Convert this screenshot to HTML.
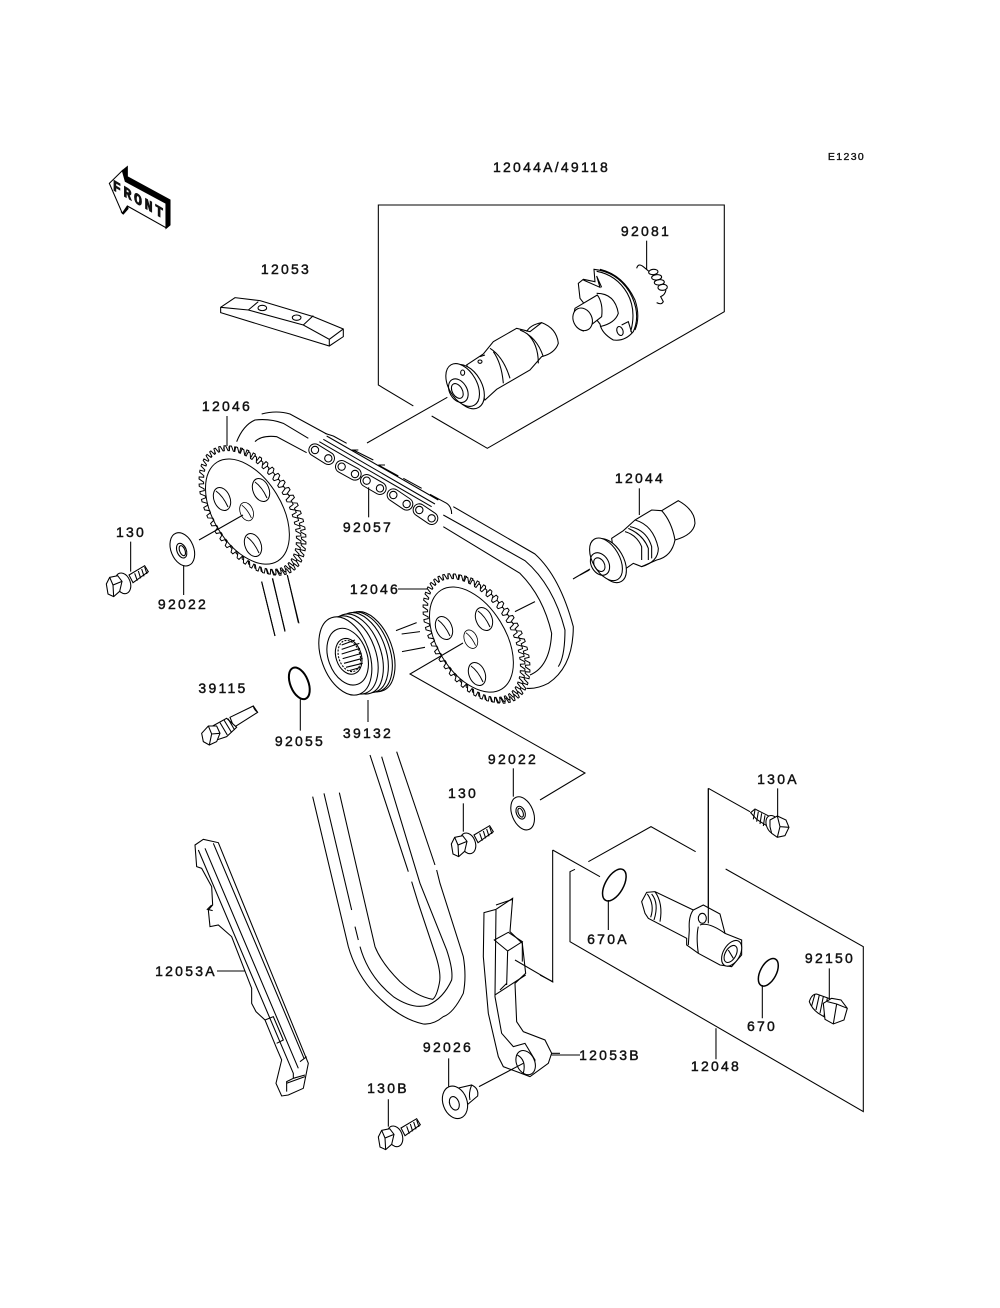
<!DOCTYPE html>
<html><head><meta charset="utf-8"><style>
html,body{margin:0;padding:0;background:#fff}
svg{display:block}
text{font-family:"Liberation Sans",sans-serif;font-size:14px;letter-spacing:2.25px;text-anchor:middle;fill:#111;stroke:#111;stroke-width:.45}
.s{fill:none;stroke:#000;stroke-width:1.05}
.z{fill:none;stroke:#000;stroke-width:3.2}
.w{fill:#fff}
</style></head><body>
<svg width="1000" height="1308" viewBox="0 0 1000 1308" xmlns="http://www.w3.org/2000/svg">
<defs>
<g id="spb"><path class="tooth" fill="#fff" stroke="#000" stroke-width="1"/></g>
<g id="spf"><path class="tooth" fill="#fff" stroke="#000" stroke-width="1"/><ellipse cx="0" cy="3" rx="58" ry="34" fill="none" stroke="#000" stroke-width="1"/></g>
<g id="hole"><ellipse rx="8" ry="12" transform="rotate(-22)" fill="#fff" stroke="#000" stroke-width="1"/><path d="M-6-8Q1-3 6 8" fill="none" stroke="#000" stroke-width="1"/></g>
<g id="bolt" class="z" transform="scale(.3333) translate(-85,-195)">
<path class="w" d="M118 165L165 137L176 155L130 188Z"/>
<path d="M135 160L143 182M146 153L153 175M156 147L163 169M165 141L172 162"/>
<ellipse class="w" cx="100" cy="190" rx="22" ry="32" transform="rotate(-20 100 190)"/>
<path class="w" d="M50 192L60 172L84 167L97 184L90 214L72 230L55 222Z"/>
<path d="M60 172L70 195L97 184M70 195L72 230"/>
</g>
</defs>

<!-- labels -->
<text x="846.5" y="160" style="font-size:10.5px;letter-spacing:1.4px;stroke-width:.35">E1230</text>
<text x="551.5" y="172">12044A/49118</text>
<text x="646" y="236">92081</text>
<text x="286" y="274">12053</text>
<text x="227" y="411">12046</text>
<text x="640" y="483">12044</text>
<text x="368" y="532">92057</text>
<text x="131" y="537">130</text>
<text x="375" y="594">12046</text>
<text x="183" y="609">92022</text>
<text x="223" y="693">39115</text>
<text x="300" y="746">92055</text>
<text x="368" y="738">39132</text>
<text x="513" y="764">92022</text>
<text x="463" y="798">130</text>
<text x="778" y="784">130A</text>
<text x="608" y="944">670A</text>
<text x="830" y="963">92150</text>
<text x="186" y="976">12053A</text>
<text x="762" y="1031">670</text>
<text x="610" y="1060">12053B</text>
<text x="716" y="1071">12048</text>
<text x="448" y="1052">92026</text>
<text x="388" y="1093">130B</text>

<!-- z1: front arrow + 12053 block -->
<g class="z" transform="translate(90,150) scale(.3333)">
<polygon fill="#000" stroke="#000" points="97,62 112,50 112,80 240,150 240,225 228,235 226,160 106,94"/>
<polygon fill="#000" stroke="#000" points="94,186 112,165 114,176 100,192"/>
<polygon fill="#fff" points="58,100 97,62 106,94 228,160 228,233 112,168 97,190"/>
<g transform="matrix(.866 .5 0 1 148 150)"><text x="0" y="15" style="font-family:'Liberation Mono',monospace;font-weight:bold;font-size:46px;letter-spacing:9px;stroke-width:2.5">FRONT</text></g>
<path d="M392 472L435 443L510 452L670 500L760 537L760 560L718 588L392 488Z"/>
<path d="M392 472L475 480L640 525L718 568L760 537M718 568V588M475 480L505 455M640 525L670 497"/>
<ellipse cx="517" cy="474" rx="13" ry="8"/><ellipse cx="620" cy="503" rx="13" ry="8"/>
</g>

<!-- z2: box + cam + plate + spring -->
<g class="z" transform="translate(370,200) scale(.3333)">
<path d="M130 618L25 555V15H1063V335L352 745L185 648"/>
<path d="M-9 729L232 592"/>
<path d="M830 122V208"/>
<!-- spring -->
<path d="M800 205Q805 188 820 200L838 215"/>
<ellipse cx="850" cy="216" rx="14" ry="8" transform="rotate(-5 850 216)"/>
<ellipse cx="860" cy="232" rx="15" ry="8" transform="rotate(-5 860 232)"/>
<ellipse cx="868" cy="247" rx="15" ry="8" transform="rotate(-5 868 247)"/>
<ellipse cx="878" cy="262" rx="14" ry="9" transform="rotate(-5 878 262)"/>
<path d="M888 270Q885 285 872 290L880 305Q875 316 860 308"/>
<!-- plate -->
<path class="w" d="M640 238L675 245L672 208Q740 215 778 275Q815 340 790 395Q765 425 730 420Q695 400 690 372L630 295L625 250Z"/>
<path d="M680 214Q740 225 772 280Q800 330 782 395M690 208Q760 225 795 300Q812 350 795 390"/>
<path d="M640 240L690 262L680 228L695 262"/>
<ellipse cx="750" cy="393" rx="9" ry="14" transform="rotate(-20 750 393)"/>
<path d="M755 375L775 365L785 398"/>
<path d="M680 280Q735 280 745 340Q735 370 690 380"/>
<path class="w" d="M615 325L682 285Q700 310 695 350L640 393Q612 385 610 350Z"/>
<ellipse cx="638" cy="358" rx="28" ry="35" class="w" transform="rotate(-25 638 358)"/>
<!-- cam -->
<path class="w" d="M290 495L340 462L370 425L440 385L480 395L515 368Q560 385 565 430Q555 460 515 470L480 510L380 568L345 600Z"/>
<path d="M515 368Q480 375 470 395M450 390Q500 410 520 470M470 400Q505 430 505 490"/>
<path d="M360 445Q400 470 420 535M370 455Q395 490 400 550M330 470L345 465"/>
<ellipse cx="330" cy="485" rx="6" ry="5"/>
<ellipse class="w" cx="290" cy="560" rx="45" ry="72" transform="rotate(-30 290 560)"/>
<ellipse class="w" cx="278" cy="555" rx="42" ry="70" transform="rotate(-30 278 555)"/>
<ellipse cx="265" cy="572" rx="26" ry="38" transform="rotate(-30 265 572)"/>
<ellipse cx="262" cy="573" rx="15" ry="24" transform="rotate(-30 262 573)"/>
<ellipse cx="278" cy="518" rx="6" ry="8"/>
</g>

<!-- connector lines main -->
<g class="s">
<path d="M227 416V446"/>
<path d="M398 589H428"/>
<path d="M368 700V722"/>
<path d="M573 579L590 569"/>
<path d="M217 971H246"/>
</g>

<!-- belts z3 -->
<g class="z" transform="translate(190,400) scale(.3333)">
<path d="M140 125Q160 75 195 60Q240 55 280 70L355 115"/>
<path d="M215 42Q260 30 300 42L410 102"/>
<path d="M195 125Q215 105 260 110L350 158"/>
<path d="M790 320L1035 462Q1110 530 1150 680Q1150 800 1075 850Q1040 868 1010 865"/>
<path d="M760 345L1005 482Q1090 555 1125 690Q1125 770 1105 800"/>
<path d="M760 380L990 520Q1060 590 1085 700Q1080 800 1020 825"/>
<path d="M975 635L1035 605"/>
<path d="M215 545L255 708M247 535L285 692M292 525L325 668"/>
<path d="M618 692L680 668M635 702L690 695M636 755L705 742"/>
</g>

<!-- sprockets -->
<use href="#spb" transform="translate(255,511) rotate(58.5)"/>
<use href="#spf" transform="translate(250,510) rotate(58.5)"/>
<use href="#spb" transform="translate(479,639) rotate(58.5)"/>
<use href="#spf" transform="translate(474,638) rotate(58.5)"/>
<use href="#hole" x="222" y="499"/><use href="#hole" x="261" y="490"/><use href="#hole" x="247" y="512" transform="translate(49 102) scale(.8)"/><use href="#hole" x="253" y="545"/>
<use href="#hole" x="444" y="628"/><use href="#hole" x="484" y="619"/><use href="#hole" x="471" y="639" transform="translate(94 128) scale(.8)"/><use href="#hole" x="477" y="674"/>
<path class="s" d="M199 540L243 515M463 643L410 674L585 773L540 800"/>

<!-- chain z3 -->
<g transform="translate(190,400) scale(.3333)" class="z">
<path d="M400 118L735 312M410 108L745 300M388 125L725 320M430 108L470 130M490 150L550 180M565 195L625 228M640 235L695 265M720 283L770 310Q785 320 785 342M405 100L430 108M485 150L505 150M565 195L585 195"/>
<g stroke-linecap="round">
<path d="M375 150L415 175M455 200L495 222M530 242L570 265M610 285L650 312M688 330L725 355" stroke="#000" stroke-width="40"/>
<path d="M375 150L415 175M455 200L495 222M530 242L570 265M610 285L650 312M688 330L725 355" stroke="#fff" stroke-width="34"/>
</g>
<g class="w"><circle cx="375" cy="150" r="11"/><circle cx="415" cy="175" r="11"/><circle cx="455" cy="200" r="11"/><circle cx="495" cy="222" r="11"/><circle cx="530" cy="242" r="11"/><circle cx="570" cy="265" r="11"/><circle cx="610" cy="285" r="11"/><circle cx="650" cy="312" r="11"/><circle cx="688" cy="330" r="11"/><circle cx="725" cy="355" r="11"/></g>
<path d="M536 262V352"/>
</g>

<!-- cam 2 z4 -->
<g class="z" transform="translate(580,460) scale(.3333)">
<path d="M178 85V165"/>
<path class="w" d="M95 235L130 212L165 180L215 150L245 152L295 122Q345 150 345 190Q340 225 285 240Q275 290 230 300L185 320L160 310L110 345Z"/>
<path d="M245 152Q275 185 285 240M165 180Q220 195 235 265Q235 305 185 320M150 200Q200 210 215 260V295M145 205Q190 225 205 265V300M135 215Q170 225 185 260V300"/>
<ellipse class="w" cx="88" cy="302" rx="42" ry="72" transform="rotate(-30 88 302)"/>
<ellipse class="w" cx="78" cy="298" rx="40" ry="70" transform="rotate(-30 78 298)"/>
<ellipse cx="60" cy="312" rx="26" ry="36" transform="rotate(-30 60 312)"/>
<ellipse cx="58" cy="314" rx="15" ry="22" transform="rotate(-30 58 314)"/>
<path d="M0 345L28 330"/>
</g>

<!-- pulley z5 -->
<g class="z" transform="translate(300,580) scale(.3333)">
<ellipse class="w" cx="205" cy="215" rx="72" ry="125" transform="rotate(-20 205 215)"/>
<ellipse class="w" cx="197" cy="216" rx="72" ry="125" transform="rotate(-20 197 216)"/>
<ellipse class="w" cx="185" cy="218" rx="72" ry="125" transform="rotate(-20 185 218)"/>
<ellipse class="w" cx="170" cy="222" rx="72" ry="125" transform="rotate(-20 170 222)"/>
<ellipse class="w" cx="155" cy="225" rx="72" ry="122" transform="rotate(-20 155 225)"/>
<ellipse class="w" cx="136" cy="228" rx="72" ry="122" transform="rotate(-20 136 228)"/>
<ellipse cx="143" cy="230" rx="58" ry="88" transform="rotate(-20 143 230)"/>
<ellipse cx="146" cy="229" rx="38" ry="55" transform="rotate(-18 146 229)"/>
<ellipse cx="148" cy="228" rx="32" ry="48" transform="rotate(-18 148 228)" stroke-dasharray="6 4"/>
<path d="M125 195L165 180M125 208L178 190M125 222L180 205M128 236L185 220M132 250L188 235M138 262L188 250M148 272L182 262"/>
</g>

<!-- z6 parts -->
<g class="z" transform="translate(90,520) scale(.3333)">
<path d="M122 65V155M281 135V225"/>
<ellipse class="w" cx="277" cy="88" rx="34" ry="52" transform="rotate(-22 277 88)"/>
<ellipse cx="275" cy="92" rx="14" ry="23" transform="rotate(-22 275 92)"/>
<ellipse cx="277" cy="92" rx="8" ry="16" transform="rotate(-22 277 92)"/>
<path d="M515 185L555 348M548 175L585 335M592 165L627 310"/>
<ellipse cx="628" cy="490" rx="27" ry="50" transform="rotate(-22 628 490)" stroke-width="6"/>
<path d="M631 538V632"/>
<!-- 39115 -->
<path class="w" d="M420 592L490 558L503 577L432 622Z"/>
<path d="M490 558Q492 570 503 577"/>
<path class="w" d="M368 618L410 595L440 622L410 650L380 660Z"/>
<path d="M390 608L412 645M402 600L425 638M414 596L434 630"/>
<path class="w" d="M335 640L355 618L380 618L390 640L380 665L358 675L340 665Z"/>
<path d="M355 618L365 642L390 640M365 642L358 675"/>
</g>
<use href="#bolt" transform="translate(118,585)"/>
<use href="#bolt" transform="translate(463,845)"/>
<use href="#bolt" transform="translate(390,1138)"/>

<!-- z7: chain loop, washer -->
<g class="z" transform="translate(300,750) scale(.3333)">
<path d="M38 140L145 590Q165 660 210 715Q290 805 370 822Q400 825 430 800Q460 790 490 730Q500 680 490 620L420 400L410 360M405 345L290 5"/>
<path d="M72 130L155 480M165 530L175 570M180 590Q205 680 280 740Q340 780 385 765Q430 745 455 690Q460 660 440 600L360 400L245 20"/>
<path d="M118 128L225 590Q245 640 300 695Q350 740 398 748Q410 740 418 700Q425 670 405 610L355 460L335 395M325 365L210 15"/>
<path d="M640 55V140"/>
<ellipse class="w" cx="668" cy="190" rx="32" ry="52" transform="rotate(-22 668 190)"/>
<ellipse cx="662" cy="188" rx="13" ry="20" transform="rotate(-22 662 188)"/>
<ellipse cx="662" cy="188" rx="7" ry="14" transform="rotate(-22 662 188)"/>
<path d="M490 160V245"/>
</g>

<!-- z8: tensioner -->
<g class="z" transform="translate(540,770) scale(.3333)">
<path d="M505 55L630 125M505 55V460"/>
<path d="M38 240L180 320M38 240V635L0 615"/>
<path d="M145 275L333 170L467 245M557 297L970 530V1025L90 515V305L105 298"/>
<path d="M528 775V868M713 55V140M205 390V480M667 645V745M868 595V685M35 855H120"/>
<ellipse cx="223" cy="345" rx="27" ry="53" transform="rotate(30 223 345)" stroke-width="4.5"/>
<ellipse cx="685" cy="607" rx="24" ry="45" transform="rotate(28 685 607)" stroke-width="4.5"/>
<!-- body -->
<path class="w" d="M305 395L320 367L345 365L460 420L490 405L540 432L555 490L605 510L605 555L575 590L540 585L475 550L440 525L440 505L325 445L315 430Z"/>
<path d="M345 365Q370 400 360 455M335 372Q358 400 342 450M322 372Q345 405 332 442"/>
<path d="M460 420Q445 440 448 480L445 525M480 465Q505 455 555 490M475 470Q468 500 475 550"/>
<ellipse cx="487" cy="445" rx="12" ry="15"/>
<path d="M505 55V460"/>
<ellipse class="w" cx="575" cy="550" rx="25" ry="42" transform="rotate(30 575 550)"/>
<ellipse cx="572" cy="552" rx="16" ry="28" transform="rotate(30 572 552)"/>
<path d="M565 540L580 565"/>
<!-- 130A -->
<path class="w" d="M632 128L645 117L700 145L685 170L650 148Z"/>
<path d="M645 120L640 148M655 125L650 155M665 130L660 162M675 136L670 168"/>
<ellipse class="w" cx="700" cy="165" rx="20" ry="30" transform="rotate(-25 700 165)"/>
<path class="w" d="M690 150L712 138L738 150L747 172L735 197L712 202L695 190L690 170Z"/>
<path d="M712 138L720 170L747 172M720 170L712 202"/>
<!-- 92150 -->
<path class="w" d="M808 695Q815 672 830 672L880 690L860 745L835 730Q815 715 808 695Z"/>
<path d="M825 672L815 708M838 675L828 720M850 680L840 730M862 685L852 738"/>
<path class="w" d="M850 700L875 685L903 690L922 715L912 750L880 762L855 748Z"/>
<path d="M890 702L922 715M890 702L880 762M862 695L890 702"/>
</g>

<!-- z9: 12053A -->
<g class="z" transform="translate(150,830) scale(.3333)">
<path class="w" d="M135 45L160 28L205 38L475 700L468 735L460 775L415 795L395 798L378 760L395 690L380 655L345 570L318 545L305 520L305 475L245 320L205 285L180 290L175 240L188 225L185 170L155 115L140 110Z"/>
<path d="M165 55L445 715M190 40L462 685"/>
<path d="M145 60L430 730V745L410 755V785M410 760L465 740M430 745L465 735"/>
<path d="M185 225L172 238L188 242M345 570L370 560L400 630L380 640M450 695L470 680"/>
</g>

<!-- z10: guide + bushing -->
<g class="z" transform="translate(360,890) scale(.3333)">
<path class="w" d="M372 68L408 58L458 25L450 125L487 160L497 250L465 280L470 395L490 425L555 450L575 490L565 520L510 560L470 545L430 530L415 500L385 370L370 200Z"/>
<path d="M408 60L405 320L425 430L460 470L495 460L525 510L518 550M408 45L458 28"/>
<path d="M403 150L445 127L487 155L443 183ZM443 183L440 285M487 155V215M405 315L497 255M420 300L440 280"/>
<path d="M465 210L580 277"/>
<ellipse class="w" cx="497" cy="518" rx="27" ry="38" transform="rotate(-25 497 518)"/>
<path d="M472 495Q500 510 490 550"/>
<path d="M357 590L490 520"/>
<path d="M575 490H600"/>
<path d="M266 505V590M85 628V710"/>
<path class="w" d="M270 600L335 585Q357 595 353 618L315 650L290 640Z"/>
<path d="M335 585Q325 610 330 630"/>
<ellipse class="w" cx="285" cy="637" rx="36" ry="50" transform="rotate(-20 285 637)"/>
<ellipse cx="283" cy="640" rx="14" ry="21" transform="rotate(-20 283 640)"/>
</g>
</svg>
<script>
(function(){
var n=50,d="",A1=66,B1=36.5,A2=71,B2=41;
function pt(a,b,t){return (a*Math.cos(t)).toFixed(2)+" "+(b*Math.sin(t)).toFixed(2)}
for(var i=0;i<n;i++){
var p=2*Math.PI/n,t=i*p;
d+=(i?"L":"M")+pt(A1,B1,t)+"L"+pt(A2,B2,t+.22*p)+"L"+pt(A2,B2,t+.52*p)+"L"+pt(A1,B1,t+.74*p);
}
d+="Z";
var e=document.querySelectorAll(".tooth");
for(var j=0;j<e.length;j++)e[j].setAttribute("d",d);
})();
</script>
</body></html>
